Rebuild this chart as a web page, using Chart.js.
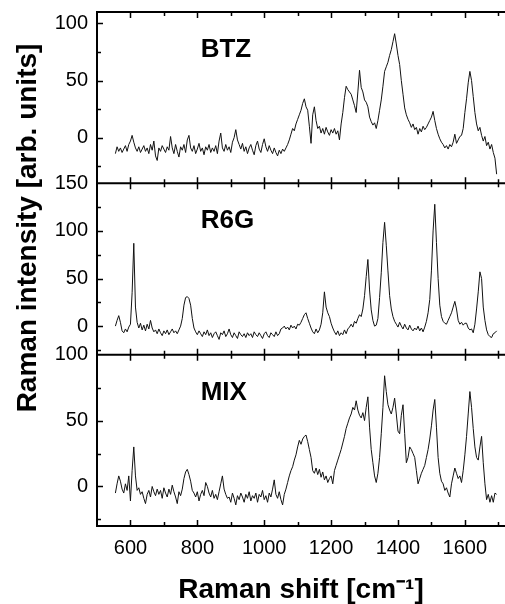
<!DOCTYPE html>
<html>
<head>
<meta charset="utf-8">
<title>Raman spectra: BTZ, R6G, MIX</title>
<script src="https://cdn.jsdelivr.net/npm/chart.js"></script>
<style>
  html, body { margin: 0; padding: 0; background: #fff; }
  #wrap { width: 505px; height: 604px; }
</style>
</head>
<body>
<div id="wrap"><canvas id="ramanChart" width="505" height="604"></canvas></div>
<script>
// Raman shift, cm-1
const shifts = [
  555, 560, 565, 570, 575, 580, 585, 590, 595, 600, 605, 610, 615, 620, 625, 630, 635, 640, 645, 650,
  655, 660, 665, 670, 675, 680, 685, 690, 695, 700, 705, 710, 715, 720, 725, 730, 735, 740, 745, 750,
  755, 760, 765, 770, 775, 780, 785, 790, 795, 800, 805, 810, 815, 820, 825, 830, 835, 840, 845, 850,
  855, 860, 865, 870, 875, 880, 885, 890, 895, 900, 905, 910, 915, 920, 925, 930, 935, 940, 945, 950,
  955, 960, 965, 970, 975, 980, 985, 990, 995, 1000, 1005, 1010, 1015, 1020, 1025, 1030, 1035, 1040, 1045, 1050,
  1055, 1060, 1065, 1070, 1075, 1080, 1085, 1090, 1095, 1100, 1105, 1110, 1115, 1120, 1125, 1130, 1135, 1140, 1145, 1150,
  1155, 1160, 1165, 1170, 1175, 1180, 1185, 1190, 1195, 1200, 1205, 1210, 1215, 1220, 1225, 1230, 1235, 1240, 1245, 1250,
  1255, 1260, 1265, 1270, 1275, 1280, 1285, 1290, 1295, 1300, 1305, 1310, 1315, 1320, 1325, 1330, 1335, 1340, 1345, 1350,
  1355, 1360, 1365, 1370, 1375, 1380, 1385, 1390, 1395, 1400, 1405, 1410, 1415, 1420, 1425, 1430, 1435, 1440, 1445, 1450,
  1455, 1460, 1465, 1470, 1475, 1480, 1485, 1490, 1495, 1500, 1505, 1510, 1515, 1520, 1525, 1530, 1535, 1540, 1545, 1550,
  1555, 1560, 1565, 1570, 1575, 1580, 1585, 1590, 1595, 1600, 1605, 1610, 1615, 1620, 1625, 1630, 1635, 1640, 1645, 1650,
  1655, 1660, 1665, 1670, 1675, 1680, 1685, 1690, 1695
];

const btz = [
  -14, -8, -12, -9, -13, -10, -7, -12, -6, -3, 2, -4, -9, -12, -8, -13, -10, -7, -12, -9,
  -14, -6, -11, -3, -16, -20, -9, -12, -7, -10, -13, -8, -11, 1, -9, -14, -6, -12, -17, -8,
  -11, -6, -13, -2, 2, -9, -12, -7, -14, -10, -5, -12, -9, -15, -8, -11, -6, -13, -9, -12,
  -7, -14, -3, 4, -9, -12, -6, -11, -8, -13, -4, 0, 7, -2, -6, -10, -5, -12, -8, -14,
  -9, -6, -11, -15, -7, -3, -10, -13, -6, -1, -8, -12, -7, -11, -14, -9, -13, -16, -11, -14,
  -10, -12, -9, -6, -2, 3, 8, 6, 12, 16, 20, 24, 30, 34, 27, 24, 10, -5, 20, 27,
  15, 8, 10, 4, 8, 3, 9, 5, 2, 7, 4, 8, 3, 6, -2, 12, 22, 35, 45, 42,
  40, 38, 33, 28, 22, 40, 59, 44, 40, 33, 31, 27, 18, 14, 11, 13, 8, 15, 24, 33,
  45, 58, 62, 66, 72, 77, 84, 91, 82, 72, 64, 50, 38, 26, 20, 16, 13, 9, 12, 7,
  9, 3, 8, 5, 10, 7, 9, 12, 15, 18, 23, 15, 8, 3, -1, -4, -6, -9, -7, -10,
  -6, -8, -4, 3, -5, -2, 1, 2, 8, 22, 34, 48, 58, 50, 36, 22, 12, 6, 9, 2,
  -3, 1, -7, -4, -10, -6, -13, -18, -32
];

const r6g = [
  0, 6, 11, 4, -5, -7, -3, -6, -1, 2, 35, 87, 20, 4, -2, 3, -4, 1, -5, 2,
  -3, 6, -2, -6, -4, -8, -3, -7, -10, -5, -8, -4, -9, -6, -3, -7, -5, -8, -4, 0,
  8, 22, 30, 31, 29, 22, 8, -2, -6, -9, -5, -8, -11, -6, -9, -4, -10, -7, -12, -8,
  -6, -10, -14, -7, -9, -5, -11, -8, -3, -9, -12, -7, -10, -13, -6, -9, -11, -8, -12, -7,
  -10, -8, -12, -6, -9, -11, -7, -10, -13, -8, -6, -10, -12, -7, -9, -11, -6, -10, -8, -3,
  -2, 0, -3, -1, -4, 1, -2, 0, -3, 2, 1, 4, 8, 12, 14, 8, 3, -2, -6, -8,
  -3, -7, -4, 2, 14, 36, 20, 14, 10, 3, -2, -6, -9, -5, -10, -7, -9, -4, -8, -3,
  -1, 2, -1, 5, 3, 8, 12, 10, 18, 32, 52, 70, 38, 17, 6, 0, 1, 8, 30, 56,
  88, 109, 85, 58, 32, 18, 10, 5, 2, -1, 4, 0, -3, 2, -2, -4, 1, -3, -5, -2,
  -4, 0, -5, -2, -6, -1, 5, 14, 28, 58, 100, 128, 88, 50, 22, 10, 5, 3, 2, 6,
  10, 14, 20, 26, 18, 6, 2, 4, 1, 3, 3, -2, -4, -3, -7, 2, 18, 36, 57, 50,
  20, 6, -4, -9, -11, -12, -8, -7, -5
];

const mix = [
  -5, 2, 8, 4, -2, -5, 2, -3, 8, -11, 12, 30, 8, -3, -1, -6, -4, -9, -13, -6,
  -3, -8, 0, -4, -7, -2, -6, -3, -9, -1, -5, -8, -2, -6, 1, -4, -8, -13, -4, -7,
  -2, 6, 11, 13, 9, 4, -3, -5, -8, -4, -11, -6, -3, -7, 3, 0, -5, -8, -3, -9,
  -6, -10, -4, 2, 8, -2, -6, -9, -8, -12, -5, -9, -14, -7, -10, -5, -8, -12, -6, -9,
  -4, -11, -7, -9, -5, -12, -6, -8, -3, -10, -7, -12, -5, -8, -2, 5, -6, -9, -4, -10,
  -14, -6, -2, 3, 8, 12, 15, 20, 24, 30, 35, 32, 36, 38, 39, 34, 28, 22, 12, 10,
  14, 9, 13, 7, 11, 5, 8, 3, 6, 8, 2, 12, 16, 20, 24, 28, 33, 38, 44, 48,
  52, 55, 60, 58, 65, 58, 54, 52, 56, 50, 60, 68, 45, 28, 18, 8, 3, 10, 22, 40,
  60, 84, 72, 62, 58, 55, 60, 67, 55, 42, 40, 54, 62, 40, 18, 22, 30, 28, 25, 22,
  12, 2, 6, 10, 13, 16, 22, 28, 36, 46, 58, 66, 45, 22, 10, 4, 2, -3, -1, -5,
  -8, 2, 8, 14, 10, 6, 8, 3, 12, 24, 38, 55, 72, 60, 44, 30, 22, 20, 30, 38,
  18, 2, -10, -6, -12, -7, -12, -5, -6
];

const panelNames = ['BTZ', 'R6G', 'MIX'];
const shiftTicks = [600, 800, 1000, 1200, 1400, 1600];
const shiftMinorTicks = [700, 900, 1100, 1300, 1500, 1700];
const btzTicks = [0, 50, 100];
const r6gTicks = [0, 50, 100, 150];
const mixTicks = [0, 50, 100];

const FONT = '"Liberation Sans", Arial, Helvetica, sans-serif';
const panelAxes = ['yBtz', 'yR6g', 'yMix'];

function points(ys) {
  return shifts.map((s, i) => ({ x: s, y: ys[i] }));
}

function panelAxis(min, max, tickValues) {
  return {
    type: 'linear',
    position: 'left',
    stack: 'panels',
    stackWeight: 1,
    min: min,
    max: max,
    grid: { display: false, drawTicks: false },
    border: { display: true, color: '#000', width: 2 },
    ticks: {
      color: '#000',
      padding: 9,
      font: { family: FONT, size: 20 },
      callback: v => String(v)
    },
    afterBuildTicks: function(scale) {
      scale.ticks = tickValues.map(v => ({ value: v }));
    },
    afterFit: function(scale) {
      scale.width = 97;
      scale.paddingTop = 0;
      scale.paddingBottom = 0;
    }
  };
}

// inward tick marks, panel frames, panel names and the shared y title
const axisMarks = {
  id: 'axisMarks',
  afterDraw(chart) {
    const ctx = chart.ctx;
    const area = chart.chartArea;
    const xs = chart.scales.x;
    ctx.save();
    ctx.strokeStyle = '#000';
    ctx.fillStyle = '#000';
    panelAxes.forEach((id, i) => {
      const ys = chart.scales[id];
      ctx.lineWidth = 2;
      ctx.beginPath();
      ctx.moveTo(area.left - 1, ys.top);
      ctx.lineTo(area.right, ys.top);
      ctx.stroke();

      ctx.lineWidth = 1.5;
      ctx.beginPath();
      shiftTicks.concat(shiftMinorTicks).forEach(v => {
        const len = shiftTicks.includes(v) ? 6 : 4;
        const px = Math.round(xs.getPixelForValue(v)) + 0.5;
        ctx.moveTo(px, ys.top);
        ctx.lineTo(px, ys.top + len);
        ctx.moveTo(px, ys.bottom);
        ctx.lineTo(px, ys.bottom - len);
      });
      for (let v = Math.ceil(ys.min / 25) * 25; v < ys.max; v += 25) {
        const len = v % 50 === 0 ? 6 : 4;
        const py = Math.round(ys.getPixelForValue(v)) + 0.5;
        ctx.moveTo(area.left, py);
        ctx.lineTo(area.left + len, py);
      }
      ctx.stroke();

      ctx.font = 'bold 26px ' + FONT;
      ctx.textAlign = 'left';
      ctx.textBaseline = 'alphabetic';
      ctx.fillText(panelNames[i], xs.getPixelForValue(810), ys.top + 45);
    });

    ctx.translate(36, 228);
    ctx.rotate(-Math.PI / 2);
    ctx.font = 'bold 28px ' + FONT;
    ctx.textAlign = 'center';
    ctx.textBaseline = 'alphabetic';
    ctx.fillText('Raman intensity [arb. units]', 0, 0);
    ctx.restore();
  }
};

const lineStyle = {
  borderColor: '#111',
  borderWidth: 1,
  pointRadius: 0,
  tension: 0,
  fill: false
};

new Chart(document.getElementById('ramanChart').getContext('2d'), {
  type: 'line',
  data: {
    datasets: [
      Object.assign({ label: 'BTZ', data: points(btz), yAxisID: 'yBtz' }, lineStyle),
      Object.assign({ label: 'R6G', data: points(r6g), yAxisID: 'yR6g' }, lineStyle),
      Object.assign({ label: 'MIX', data: points(mix), yAxisID: 'yMix' }, lineStyle)
    ]
  },
  options: {
    responsive: false,
    animation: false,
    layout: { padding: { top: 12, right: 0, bottom: 0, left: 0 } },
    plugins: {
      legend: { display: false },
      tooltip: { enabled: false }
    },
    scales: {
      x: {
        type: 'linear',
        position: 'bottom',
        min: 500,
        max: 1720,
        grid: { display: false, drawTicks: false },
        border: { display: true, color: '#000', width: 2 },
        ticks: {
          color: '#000',
          padding: 10,
          maxRotation: 0,
          autoSkip: false,
          font: { family: FONT, size: 20 },
          callback: v => String(v)
        },
        title: {
          display: true,
          text: 'Raman shift [cm\u207B\u00B9]',
          color: '#000',
          padding: { top: 0, bottom: 0 },
          font: { family: FONT, size: 28, weight: 'bold', lineHeight: 1 }
        },
        afterBuildTicks: function(scale) {
          scale.ticks = shiftTicks.map(v => ({ value: v }));
        },
        afterFit: function(scale) {
          scale.height = 78;
          scale.paddingLeft = 0;
          scale.paddingRight = 0;
        }
      },
      yMix: panelAxis(-30, 100, mixTicks),
      yR6g: panelAxis(-30, 150, r6gTicks),
      yBtz: panelAxis(-40, 110, btzTicks)
    }
  },
  plugins: [axisMarks]
});
</script>
</body>
</html>
